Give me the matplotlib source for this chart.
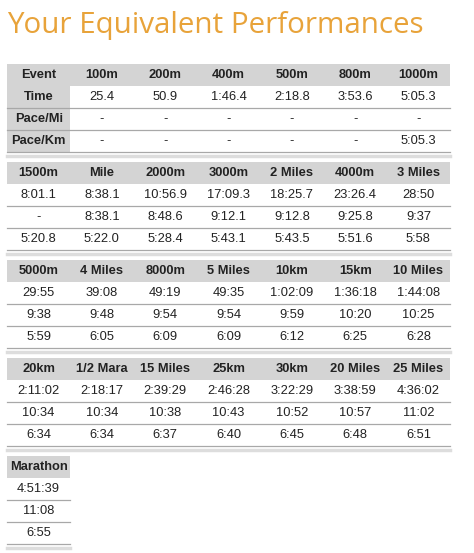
import matplotlib
matplotlib.use("Agg")
from matplotlib import pyplot as plt
from matplotlib.patches import Rectangle

row_labels = ["Time", "Pace/Mi", "Pace/Km"]

events_1 = ["100m", "200m", "400m", "500m", "800m", "1000m"]
time_1 = ["25.4", "50.9", "1:46.4", "2:18.8", "3:53.6", "5:05.3"]
mile_1 = ["-", "-", "-", "-", "-", "-"]
km_1 = ["-", "-", "-", "-", "-", "5:05.3"]

events_2 = ["1500m", "Mile", "2000m", "3000m", "2 Miles", "4000m", "3 Miles"]
time_2 = ["8:01.1", "8:38.1", "10:56.9", "17:09.3", "18:25.7", "23:26.4", "28:50"]
mile_2 = ["-", "8:38.1", "8:48.6", "9:12.1", "9:12.8", "9:25.8", "9:37"]
km_2 = ["5:20.8", "5:22.0", "5:28.4", "5:43.1", "5:43.5", "5:51.6", "5:58"]

events_3 = ["5000m", "4 Miles", "8000m", "5 Miles", "10km", "15km", "10 Miles"]
time_3 = ["29:55", "39:08", "49:19", "49:35", "1:02:09", "1:36:18", "1:44:08"]
mile_3 = ["9:38", "9:48", "9:54", "9:54", "9:59", "10:20", "10:25"]
km_3 = ["5:59", "6:05", "6:09", "6:09", "6:12", "6:25", "6:28"]

events_4 = ["20km", "1/2 Mara", "15 Miles", "25km", "30km", "20 Miles", "25 Miles"]
time_4 = ["2:11:02", "2:18:17", "2:39:29", "2:46:28", "3:22:29", "3:38:59", "4:36:02"]
mile_4 = ["10:34", "10:34", "10:38", "10:43", "10:52", "10:57", "11:02"]
km_4 = ["6:34", "6:34", "6:37", "6:40", "6:45", "6:48", "6:51"]

events_5 = ["Marathon"]
time_5 = ["4:51:39"]
mile_5 = ["11:08"]
km_5 = ["6:55"]

blocks = [
    (["Event"] + events_1, [[row_labels[0]] + time_1, [row_labels[1]] + mile_1, [row_labels[2]] + km_1]),
    (events_2, [time_2, mile_2, km_2]),
    (events_3, [time_3, mile_3, km_3]),
    (events_4, [time_4, mile_4, km_4]),
    (events_5, [time_5, mile_5, km_5]),
]

fig = plt.figure(figsize=(4.74, 5.53), dpi=100)
ax = fig.add_axes([0, 0, 1, 1])
ax.set_xlim(0, 474)
ax.set_ylim(553, 0)
ax.axis("off")

ax.text(7, 26, "Your Equivalent Performances", color="#e8a33a", fontsize=21.3,
        family="Open Sans", va="center", ha="left")

x0, cw, rh = 7, 63.3, 22
gray = "#d4d4d4"
line = "#a8a8a8"
font = "Liberation Sans"
fs = 9.3

for b, (head, rows) in enumerate(blocks):
    top = 64 + b * 98
    n = len(head)
    right = x0 + n * cw
    ax.add_patch(Rectangle((x0, top), n * cw, rh, color=gray, lw=0))
    for j, h in enumerate(head):
        ax.text(x0 + (j + 0.5) * cw, top + rh / 2, h, ha="center", va="center",
                fontsize=fs, fontweight="bold", family=font, color="#222222")
    for i, r in enumerate(rows):
        y = top + rh * (i + 1)
        for j, v in enumerate(r):
            bold = (b == 0 and j == 0)
            if bold:
                ax.add_patch(Rectangle((x0, y), cw, rh, color=gray, lw=0))
            ax.text(x0 + (j + 0.5) * cw, y + rh / 2, v, ha="center", va="center",
                    fontsize=fs, family=font, color="#222222",
                    fontweight="bold" if bold else "normal")
        ax.plot([x0, right], [y + rh, y + rh], color=line, lw=0.9)
    sep = top + rh * 4 + 4
    ax.plot([x0, right], [sep, sep], color="#dddddd", lw=2.5)

fig.savefig("out.png", dpi=100)
